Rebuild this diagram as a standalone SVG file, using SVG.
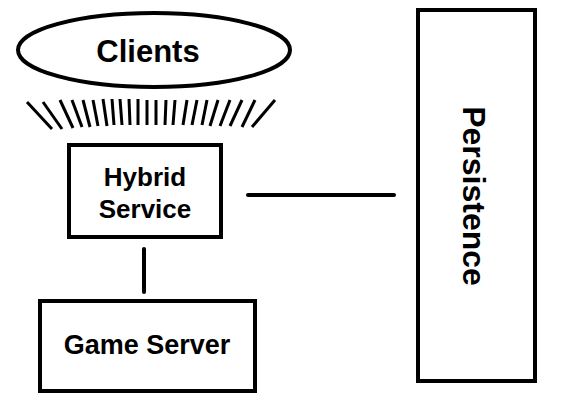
<svg xmlns="http://www.w3.org/2000/svg" width="569" height="405" viewBox="0 0 569 405">
<style>
.shape{fill:#fff;stroke:#000;stroke-width:4}
.lbl{font-family:"Liberation Sans",Arial,sans-serif;font-weight:bold;fill:#000;text-anchor:middle}
.conn{stroke:#000;stroke-width:4;stroke-linecap:round;fill:none}
.ray{stroke:#000;stroke-width:3;fill:none}
</style>
<rect width="569" height="405" fill="#fff"/>
<g id="clients">
<ellipse class="shape" cx="154" cy="50" rx="136" ry="37"/>
<text class="lbl" x="148" y="62" font-size="31">Clients</text>
<g id="rays">
<line class="ray" x1="27" y1="102" x2="52" y2="129"/>
<line class="ray" x1="43" y1="102" x2="62" y2="129"/>
<line class="ray" x1="60" y1="100" x2="73" y2="128"/>
<line class="ray" x1="72" y1="100" x2="82" y2="127"/>
<line class="ray" x1="83" y1="100" x2="90" y2="127"/>
<line class="ray" x1="93" y1="100" x2="98" y2="126"/>
<line class="ray" x1="103" y1="99" x2="107" y2="126"/>
<line class="ray" x1="112" y1="99" x2="114" y2="125"/>
<line class="ray" x1="120" y1="99" x2="122" y2="125"/>
<line class="ray" x1="129" y1="99" x2="130" y2="125"/>
<line class="ray" x1="138" y1="99" x2="138" y2="125"/>
<line class="ray" x1="147" y1="100" x2="147" y2="125"/>
<line class="ray" x1="156" y1="100" x2="156" y2="125"/>
<line class="ray" x1="166" y1="100" x2="165" y2="125"/>
<line class="ray" x1="175" y1="100" x2="173" y2="125"/>
<line class="ray" x1="187" y1="100" x2="183" y2="125"/>
<line class="ray" x1="197" y1="100" x2="192" y2="125"/>
<line class="ray" x1="207" y1="100" x2="202" y2="125"/>
<line class="ray" x1="218" y1="100" x2="210" y2="126"/>
<line class="ray" x1="230" y1="100" x2="220" y2="126"/>
<line class="ray" x1="242" y1="100" x2="230" y2="126"/>
<line class="ray" x1="255" y1="100" x2="242" y2="127"/>
<line class="ray" x1="275" y1="100" x2="252" y2="127"/>
</g>
</g>
<g id="hybrid">
<rect class="shape" x="69" y="145" width="152" height="92"/>
<text class="lbl" x="145" y="186" font-size="26">Hybrid</text>
<text class="lbl" x="145" y="218" font-size="26">Service</text>
</g>
<g id="gameserver">
<rect class="shape" x="40" y="301" width="215" height="90"/>
<text class="lbl" x="147" y="354" font-size="27">Game Server</text>
</g>
<g id="persistence">
<rect class="shape" x="418" y="10" width="117" height="371"/>
<text class="lbl" font-size="32" transform="translate(463,196) rotate(90)">Persistence</text>
</g>
<g id="connectors">
<line class="conn" x1="248" y1="195" x2="394" y2="195"/>
<line class="conn" x1="144" y1="249" x2="144" y2="292"/>
</g>
</svg>
